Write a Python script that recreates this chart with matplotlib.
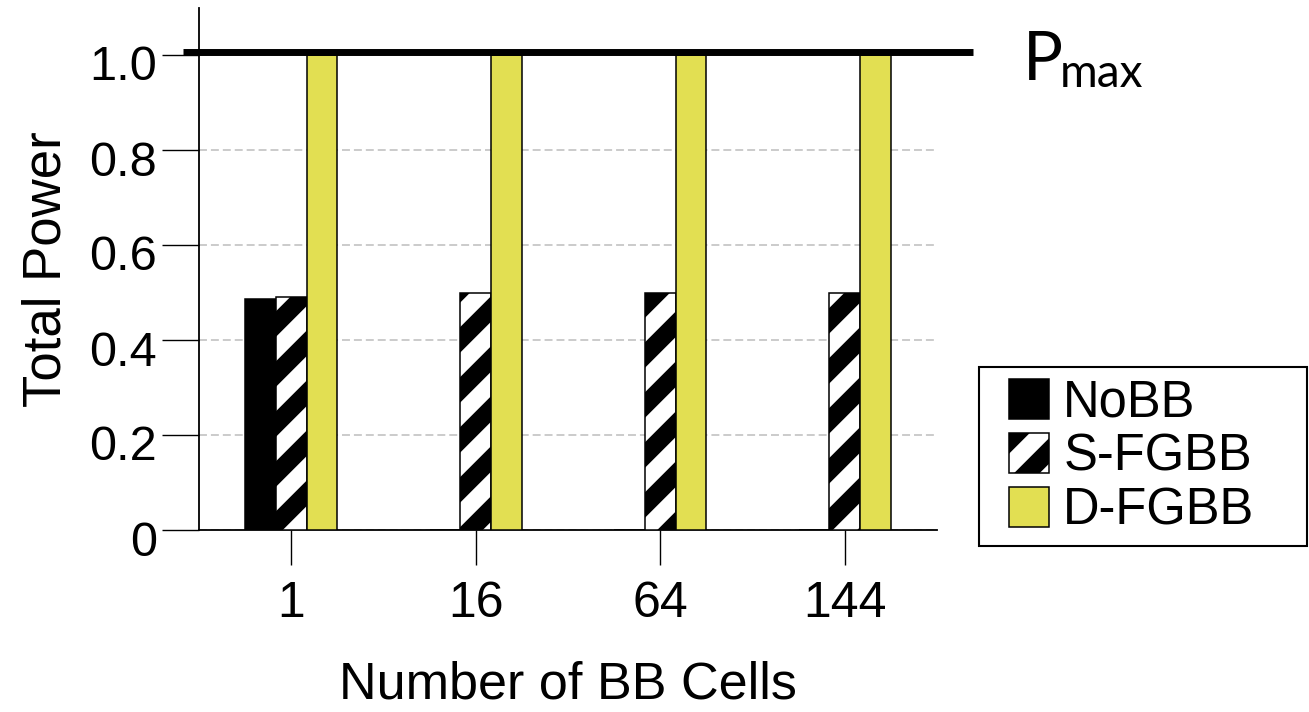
import numpy as np
import matplotlib
matplotlib.use('Agg')
import matplotlib.pyplot as plt
import matplotlib.hatch as mhatch
from matplotlib.patches import Rectangle
from matplotlib.legend_handler import HandlerPatch
from matplotlib.transforms import ScaledTranslation, blended_transform_factory, offset_copy

# ---------------- data ----------------
categories = ['1', '16', '64', '144']
series_names = ['NoBB', 'S-FGBB', 'D-FGBB']
nobb = [0.487, 0.0, 0.0, 0.0]
s_fgbb = [0.49, 0.50, 0.50, 0.50]
d_fgbb = [1.0, 1.0, 1.0, 1.0]
pmax = 1.0
yticks = [0, 0.2, 0.4, 0.6, 0.8, 1.0]
ytick_labels = ['0', '0.2', '0.4', '0.6', '0.8', '1.0']


# wide diagonal stripes for the S-FGBB hatch
class _WideNorthEastHatch(mhatch.NorthEastHatch):
    def __init__(self, hatch, density):
        super().__init__(hatch, density)
        self.num_lines = int((hatch.count('/') + hatch.count('x') + hatch.count('X')) * 4)
        self.num_vertices = (self.num_lines + 1) * 2 if self.num_lines else 0


mhatch._hatch_types = [(_WideNorthEastHatch if t is mhatch.NorthEastHatch else t)
                       for t in mhatch._hatch_types]

plt.rcParams['font.family'] = ['Liberation Sans', 'DejaVu Sans']
plt.rcParams['hatch.linewidth'] = 13
plt.rcParams['hatch.color'] = 'black'

W, H = 1309, 712
fig = plt.figure(figsize=(W / 100, H / 100), dpi=100)
ax = fig.add_axes([199 / W, (H - 530) / H, (937 - 199) / W, (530 - 7.5) / H])

x = np.arange(len(categories))
w = 1 / 6
b1 = ax.bar(x - w, nobb, w, color='black', edgecolor='black', lw=1.1, zorder=3)
b2 = ax.bar(x, s_fgbb, w, color='white', edgecolor='black', hatch='/', lw=1.1, zorder=3)
b3 = ax.bar(x + w, d_fgbb, w, color='#E2DF52', edgecolor='black', lw=1.1, zorder=3)

ax.set_xlim(-0.5, 3.5)
ax.set_ylim(0, 1.1)
ax.set_xticks(x, categories)
ax.set_yticks(yticks, ytick_labels)
ax.tick_params(axis='x', length=25, width=1, pad=12, labelsize=36, color='black')
ax.tick_params(axis='y', length=26.6, width=1, pad=3.6, labelsize=35, color='black')
for s in ['top', 'right']:
    ax.spines[s].set_visible(False)
for s in ['left', 'bottom']:
    ax.spines[s].set_linewidth(1.3)
ax.set_axisbelow(True)
ax.yaxis.grid(True, color='#bdbdbd', lw=1.1, ls=(0, (5.2, 2.6)), zorder=0)

# shift y tick labels slightly down as in reference
for t in ax.yaxis.get_major_ticks():
    t.label1.set_transform(t.label1.get_transform() +
                           ScaledTranslation(0, -0.08, fig.dpi_scale_trans))

# Pmax line
btrans = blended_transform_factory(ax.transAxes, ax.transData)
ptrans = offset_copy(btrans, fig=fig, y=3, units='dots')
ax.plot([-0.0217, 1.0488], [pmax, pmax], color='black', lw=5, transform=ptrans,
        clip_on=False, zorder=6, solid_capstyle='butt')
fig.text(1023 / W, (H - 80) / H, 'P', fontsize=48, family='Lato', va='baseline', ha='left')
fig.text(1060 / W, (H - 87) / H, 'max', fontsize=33, family='Lato', va='baseline', ha='left')

ax.set_ylabel('Total Power', fontsize=38)
ax.yaxis.set_label_coords(-0.173, 0.5)
ax.set_xlabel('Number of BB Cells', fontsize=37.5)
ax.xaxis.set_label_coords(0.5, -0.249)


def rect_func(legend, orig_handle, xdescent, ydescent, width, height, fontsize):
    s = 28.8
    return Rectangle((-xdescent + width - s, -2.2), s, s)


handles = [b1.patches[0], b2.patches[0], b3.patches[0]]
leg = fig.legend(handles, series_names, loc='upper left',
                 bbox_to_anchor=(979 / W, (H - 547) / H, 328 / W, 180 / H),
                 mode='expand', borderaxespad=0, fontsize=36.5, frameon=True,
                 fancybox=False, edgecolor='black', framealpha=1,
                 handlelength=1.16, handleheight=0.7, handletextpad=0.28,
                 labelspacing=0.1, borderpad=0.22,
                 handler_map={Rectangle: HandlerPatch(patch_func=rect_func)})
leg.get_frame().set_linewidth(1.5)

fig.savefig('out.png', dpi=100)
